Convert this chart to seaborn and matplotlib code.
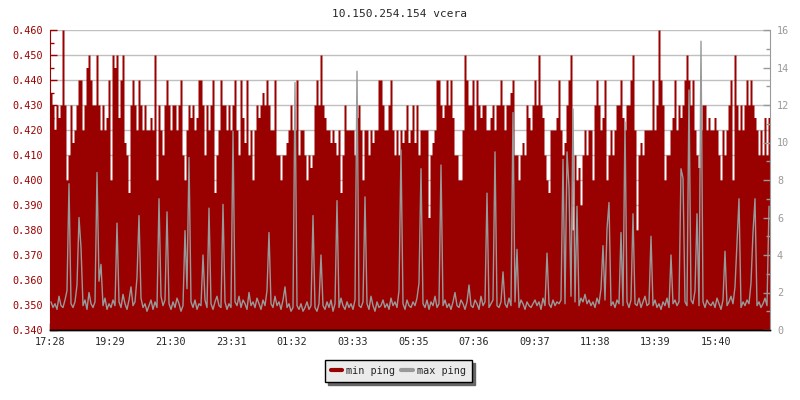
import numpy as np
import pandas as pd
import matplotlib
matplotlib.use('Agg')
import matplotlib.pyplot as plt
import seaborn as sns
from matplotlib.ticker import MultipleLocator, FormatStrFormatter
from matplotlib.lines import Line2D

# min ping in thousandths (one value every 4 minutes, one row per hour)
min_ping_raw = [
    435, 430, 420, 430, 425, 430, 460, 430, 400, 410, 430, 415, 420, 430, 440,
    440, 420, 430, 445, 450, 440, 430, 430, 450, 430, 420, 430, 420, 425, 440,
    400, 450, 445, 450, 425, 440, 450, 415, 410, 395, 430, 440, 430, 420, 440,
    430, 420, 430, 420, 420, 425, 420, 450, 400, 430, 420, 410, 430, 440, 430,
    420, 430, 430, 420, 430, 440, 410, 400, 420, 430, 425, 430, 420, 425, 440,
    440, 430, 410, 430, 420, 430, 440, 395, 410, 420, 440, 430, 430, 420, 430,
    420, 430, 440, 420, 410, 440, 425, 415, 440, 410, 420, 400, 420, 430, 425,
    430, 435, 430, 440, 430, 420, 420, 440, 410, 410, 400, 410, 410, 415, 420,
    430, 420, 420, 440, 410, 420, 420, 410, 400, 410, 405, 410, 430, 440, 430,
    450, 430, 425, 420, 420, 415, 420, 415, 410, 420, 395, 410, 430, 420, 420,
    420, 420, 410, 425, 430, 420, 400, 420, 420, 410, 420, 415, 420, 420, 440,
    440, 430, 420, 420, 430, 440, 420, 410, 420, 410, 420, 415, 420, 430, 415,
    420, 430, 415, 430, 410, 420, 420, 420, 420, 385, 410, 415, 420, 440, 440,
    430, 425, 430, 440, 430, 440, 425, 410, 410, 400, 400, 420, 450, 440, 430,
    430, 440, 420, 440, 430, 425, 430, 430, 420, 420, 425, 430, 420, 430, 430,
    440, 430, 420, 430, 430, 435, 440, 410, 410, 400, 410, 415, 410, 430, 425,
    420, 430, 440, 430, 450, 430, 425, 410, 400, 395, 420, 420, 420, 425, 440,
    420, 410, 415, 430, 440, 450, 380, 410, 400, 405, 390, 410, 420, 410, 420,
    420, 400, 430, 440, 430, 420, 425, 440, 400, 410, 420, 410, 420, 430, 430,
    440, 425, 420, 430, 430, 440, 450, 420, 380, 410, 415, 410, 420, 420, 420,
    420, 440, 420, 430, 460, 440, 430, 400, 410, 410, 420, 425, 440, 420, 430,
    425, 430, 440, 450, 440, 430, 440, 420, 410, 405, 420, 430, 430, 420, 425,
    420, 420, 425, 420, 410, 400, 420, 410, 420, 430, 440, 400, 450, 430, 420,
    430, 420, 430, 440, 430, 440, 430, 425, 420, 410, 420, 410, 425, 410, 425,
]

# max ping (right axis)
max_ping = [
    1.5, 1.2, 1.4, 1.1, 1.8, 1.3, 1.2, 1.6, 2.1, 7.8, 1.4, 1.2, 1.5, 2.4, 6.0,
    4.4, 1.3, 1.6, 1.1, 2.0, 1.4, 1.2, 1.5, 8.4, 2.6, 3.5, 1.3, 1.7, 1.1, 1.4,
    1.2, 1.6, 1.3, 5.7, 1.5, 1.2, 1.9, 1.4, 1.1, 1.6, 2.3, 1.3, 1.5, 2.8, 6.1,
    1.7, 1.2, 1.4, 1.0, 1.3, 1.6, 1.1, 1.5, 1.2, 7.0, 1.8, 1.3, 1.6, 6.3, 1.4,
    1.1, 1.5, 1.2, 1.7, 1.4, 1.0, 1.3, 5.3, 2.2, 9.2, 1.5, 1.2, 1.6, 1.1, 1.4,
    1.3, 4.0, 1.6, 1.2, 6.5, 1.4, 1.1, 1.5, 1.8, 1.3, 1.2, 6.7, 1.5, 1.1, 1.4,
    1.2, 10.6, 1.5, 1.3, 1.8, 1.2, 1.6, 1.4, 1.1, 2.0, 1.3, 1.5, 1.2, 1.7, 1.4,
    1.1, 1.6, 1.3, 2.1, 5.2, 1.4, 1.2, 1.8, 1.3, 1.5, 1.1, 1.6, 2.3, 1.2, 1.4,
    1.0, 1.2, 13.2, 1.3, 1.1, 1.4, 1.0, 1.2, 1.5, 1.1, 1.3, 6.1, 1.2, 1.0, 1.4,
    4.0, 1.3, 1.1, 1.5, 1.2, 1.6, 1.0, 1.4, 6.9, 1.2, 1.7, 1.3, 1.1, 1.5, 1.2,
    1.4, 1.1, 1.6, 13.8, 1.3, 1.2, 1.5, 7.1, 1.4, 1.1, 1.8, 1.3, 1.0, 1.5, 1.2,
    1.3, 1.6, 1.2, 1.4, 1.1, 1.7, 1.3, 1.5, 1.2, 2.1, 9.6, 1.4, 1.1, 1.6, 1.3,
    1.2, 1.5, 1.3, 1.7, 2.5, 8.6, 1.4, 1.2, 1.6, 1.1, 1.5, 1.3, 1.8, 1.2, 1.4,
    8.8, 1.3, 1.6, 1.2, 1.4, 1.1, 1.5, 2.0, 1.3, 1.2, 1.6, 1.4, 1.1, 1.5, 2.4,
    1.3, 1.2, 1.6, 1.4, 1.1, 1.8, 1.3, 1.5, 7.3, 1.2, 1.4, 1.6, 9.5, 1.3, 1.2,
    1.5, 3.1, 1.4, 1.2, 1.7, 1.3, 11.6, 1.5, 4.3, 1.2, 1.6, 1.4, 1.1, 1.5, 1.3,
    1.2, 1.4, 1.6, 1.3, 1.5, 1.1, 1.7, 1.3, 4.1, 1.4, 1.2, 1.6, 1.3, 1.5, 1.4,
    1.6, 9.1, 1.4, 9.5, 7.6, 1.8, 11.8, 1.5, 6.6, 1.3, 1.7, 1.5, 1.9, 1.4, 1.6,
    1.3, 1.5, 1.2, 1.7, 1.4, 2.2, 4.5, 1.6, 5.4, 6.8, 1.3, 1.5, 1.2, 1.6, 1.4,
    5.2, 1.3, 11.1, 1.5, 1.2, 1.6, 6.2, 1.4, 1.3, 1.7, 1.2, 1.5, 1.8, 1.3, 1.4,
    5.0, 1.3, 1.6, 1.2, 1.4, 1.1, 1.5, 1.3, 1.7, 1.2, 4.0, 1.4, 1.6, 1.3, 1.5,
    8.6, 8.1, 1.5, 1.3, 12.8, 1.6, 1.4, 2.1, 6.2, 1.3, 15.4, 1.5, 1.2, 1.6, 1.4,
    1.3, 1.5, 1.2, 1.7, 1.4, 1.1, 1.6, 4.2, 1.3, 1.5, 1.8, 1.4, 2.3, 4.6, 7.0,
    1.2, 1.5, 1.3, 1.6, 1.4, 2.5, 5.2, 7.0, 1.3, 1.5, 1.2, 1.4, 1.7, 1.3, 6.6,
]

tick_labels = ['17:28', '19:29', '21:30', '23:31', '01:32', '03:33',
               '05:35', '07:36', '09:37', '11:38', '13:39', '15:40']

RED = '#990000'
GREY = '#999999'
step = 4  # minutes per sample
span = 1440

min_ping = np.array(min_ping_raw) / 1000.0
t = np.arange(len(min_ping)) * step
t_edges = np.append(t, span)
min_ext = np.append(min_ping, min_ping[-1])

# gray line: one point in the middle of each sample slot
df = pd.DataFrame({'t': t + step / 2, 'max_ping': max_ping})

# tick positions = minutes after the first label
def to_min(s):
    h, m = s.split(':')
    return int(h) * 60 + int(m)
start = to_min(tick_labels[0])
tick_pos = [(to_min(s) - start) % span for s in tick_labels]

sns.set_style('white')
plt.rcParams['font.family'] = ['DejaVu Sans Mono']

fig = plt.figure(figsize=(8, 4), dpi=100)
ax = fig.add_axes([0.0625, 0.175, 0.9, 0.75])
ax2 = ax.twinx()

ax.fill_between(t_edges, min_ext, 0.34, step='post', color=RED, lw=0, zorder=2)
sns.lineplot(data=df, x='t', y='max_ping', ax=ax2, color=GREY, lw=1,
             estimator=None)

ax.set_xlim(0, span)
ax.set_ylim(0.34, 0.46)
ax2.set_ylim(0, 16)
ax.set_xlabel('')
ax.set_ylabel('')
ax2.set_xlabel('')
ax2.set_ylabel('')

ax.set_axisbelow(True)
ax.yaxis.set_major_locator(MultipleLocator(0.01))
ax.yaxis.set_minor_locator(MultipleLocator(0.005))
ax.yaxis.set_major_formatter(FormatStrFormatter('%.3f'))
ax.grid(axis='y', color='#c0c0c0', lw=1)
ax.grid(axis='x', visible=False)

ax2.yaxis.set_major_locator(MultipleLocator(2))
ax2.yaxis.set_minor_locator(MultipleLocator(1))
ax2.grid(False)

ax.set_xticks(tick_pos)
ax.set_xticklabels(tick_labels)

ax.tick_params(axis='x', direction='in', length=5, width=1, color='black',
               labelsize=7.3, pad=5, bottom=True)
ax.tick_params(axis='y', which='major', direction='in', length=5, width=1,
               color=RED, labelcolor=RED, labelsize=7.3, pad=5, left=True)
ax.tick_params(axis='y', which='minor', direction='in', length=3, width=1,
               color=RED, left=True)
ax2.tick_params(axis='y', which='major', direction='in', length=5, width=1,
                color=GREY, labelcolor=GREY, labelsize=7.3, pad=5, right=True)
ax2.tick_params(axis='y', which='minor', direction='in', length=3, width=1,
                color=GREY, right=True)

for a in (ax, ax2):
    a.spines['top'].set_visible(False)
    a.spines['bottom'].set_color('black')
    a.spines['bottom'].set_linewidth(1)
ax.spines['left'].set_color(RED)
ax.spines['right'].set_visible(False)
ax2.spines['left'].set_visible(False)
ax2.spines['right'].set_color(GREY)

fig.text(0.5, 1 - 14 / 400, '10.150.254.154 vcera', ha='center', va='center',
         fontsize=8)

handles = [Line2D([], [], color=RED, lw=3), Line2D([], [], color=GREY, lw=3)]
leg = fig.legend(handles, ['min ping', 'max ping'], loc='center',
                 bbox_to_anchor=(0.498, 0.0725), ncol=2, fontsize=7.3,
                 frameon=True, fancybox=False, shadow={'color': '#666666', 'alpha': 1},
                 handlelength=1.1, handletextpad=0.4, columnspacing=0.6,
                 borderpad=0.6, borderaxespad=0)
leg.get_frame().set_edgecolor('black')
leg.get_frame().set_facecolor('#ebebeb')
leg.get_frame().set_linewidth(1)

fig.savefig('out.png', dpi=100, facecolor='white')
